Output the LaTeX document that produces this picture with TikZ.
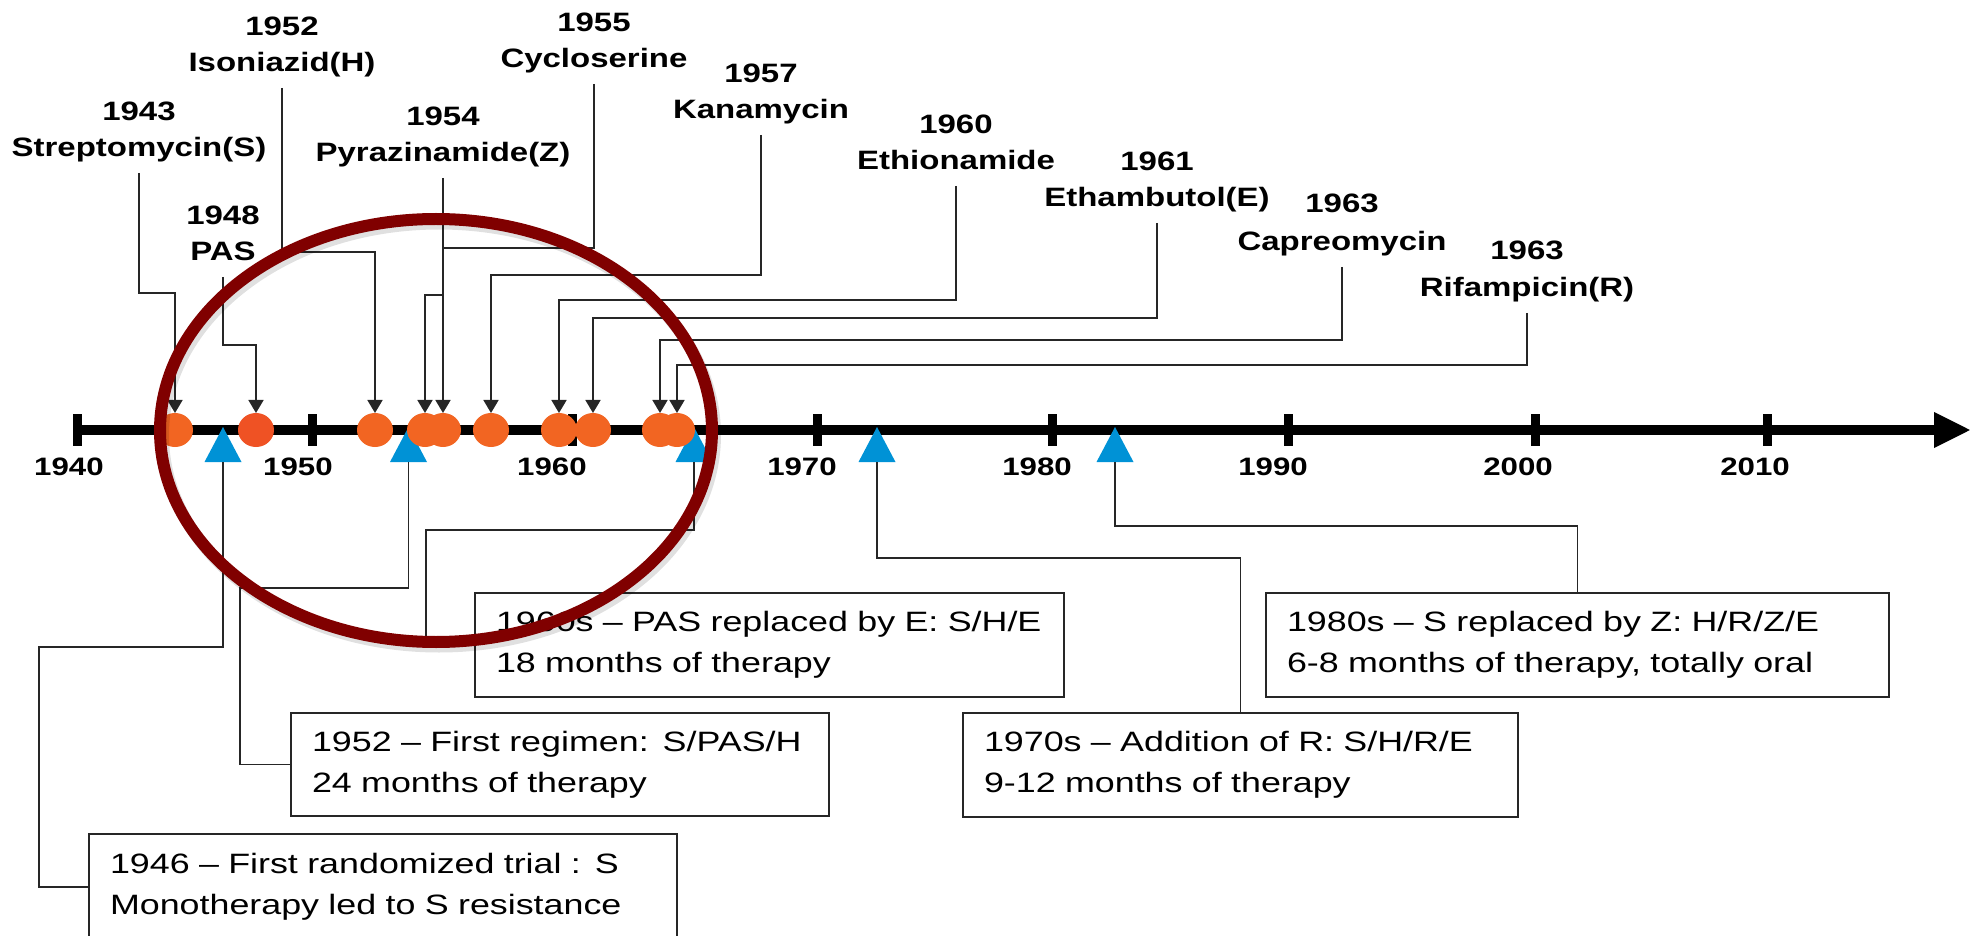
\documentclass[tikz,border=0pt]{standalone}
\usepackage{fontspec}
\setmainfont{Liberation Sans}[FakeStretch=1.24]
\newfontfamily\boxfont{Liberation Sans}[FakeStretch=1.28]
\usetikzlibrary{arrows.meta,shapes.geometric}
\definecolor{dotorange}{RGB}{242,101,34}
\definecolor{dotred}{RGB}{239,82,36}
\definecolor{triblue}{RGB}{0,146,214}
\definecolor{ringred}{RGB}{128,0,0}
\begin{document}
\begin{tikzpicture}[x=0.5pt,y=-0.5pt,
 lbl/.style={font=\bfseries\fontsize{13.3pt}{16pt}\selectfont, inner sep=0pt, outer sep=0pt, text depth=8pt, anchor=base},
 yr/.style={font=\bfseries\fontsize{13.3pt}{16pt}\selectfont, inner sep=0pt, outer sep=0pt, anchor=base},
 axlbl/.style={font=\bfseries\fontsize{12.6pt}{15pt}\selectfont, inner sep=0pt},
 conn/.style={draw=black!85, line width=0.9pt},
 arr/.style={conn, -{Triangle[width=7.5pt,length=6.5pt]}},
 dot/.style={ellipse, fill=dotorange, minimum width=18pt, minimum height=17pt, inner sep=0pt, outer sep=0pt},
 tri/.style={fill=triblue},
 box/.style={draw=black!85, line width=1pt, fill=white, align=left, inner xsep=10.5pt, inner ysep=0pt, outer sep=0pt, font=\boxfont\fontsize{14pt}{20.5pt}\selectfont},
 axisline/.style={line width=5pt, -{Triangle[length=18.5pt,width=16.5pt]}},
 tickmark/.style={line width=4.5pt},
]
\useasboundingbox (0,0) rectangle (1977,936);

% axis
\coordinate (axs) at (77,430);
\coordinate (axe) at (1971,430);
\draw[axisline] (axs) -- (axe);
\foreach \x in {77,312,572,817,1052,1288,1535,1767}
  \draw[tickmark] (\x,414) -- (\x,446);

% axis labels
\node[axlbl] (a40) at (69,467) {1940};
\node[axlbl] (a50) at (298,467) {1950};
\node[axlbl] (a60) at (552,467) {1960};
\node[axlbl] (a70) at (802,467) {1970};
\node[axlbl] (a80) at (1037,467) {1980};
\node[axlbl] (a90) at (1273,467) {1990};
\node[axlbl] (a00) at (1518,467) {2000};
\node[axlbl] (a10) at (1755,467) {2010};

% blue triangles
\coordinate (t46) at (223,462);
\coordinate (t52) at (408.5,462);
\coordinate (t60) at (694,462);
\coordinate (t70) at (877,462);
\coordinate (t80) at (1115,462);
\foreach \t in {t46,t52,t60,t70,t80}
  \fill[tri] (\t) ++(-18.5,0) -- ++(37,0) -- ++(-18.5,-35) -- cycle;

% orange dots
\node[dot] (d43) at (175,430) {};
\node[dot, fill=dotred] (d48) at (256,430) {};
\node[dot] (d52) at (375,430) {};
\node[dot] (d54) at (425,430) {};
\node[dot] (d55) at (443,430) {};
\node[dot] (d57) at (491,430) {};
\node[dot] (d60) at (559,430) {};
\node[dot] (d61) at (593,430) {};
\node[dot] (d63c) at (660,430) {};
\node[dot] (d63r) at (677,430) {};

% drug labels
\node[lbl] (n43) at (139,157) {Streptomycin(S)};
\node[yr] (y43) at ([yshift=18pt]n43.base) {1943};
\node[lbl] (n48) at (223,261) {PAS};
\node[yr] (y48) at ([yshift=18pt]n48.base) {1948};
\node[lbl] (n52) at (282,72) {Isoniazid(H)};
\node[yr] (y52) at ([yshift=18pt]n52.base) {1952};
\node[lbl] (n54) at (443,162) {Pyrazinamide(Z)};
\node[yr] (y54) at ([yshift=18pt]n54.base) {1954};
\node[lbl] (n55) at (594,68) {Cycloserine};
\node[yr] (y55) at ([yshift=18pt]n55.base) {1955};
\node[lbl] (n57) at (761,119) {Kanamycin};
\node[yr] (y57) at ([yshift=18pt]n57.base) {1957};
\node[lbl] (n60) at (956,170) {Ethionamide};
\node[yr] (y60) at ([yshift=18pt]n60.base) {1960};
\node[lbl] (n61) at (1157,207) {Ethambutol(E)};
\node[yr] (y61) at ([yshift=18pt]n61.base) {1961};
\node[lbl] (n63c) at (1342,251) {Capreomycin};
\node[yr] (y63c) at ([yshift=19pt]n63c.base) {1963};
\node[lbl] (n63r) at (1527,297) {Rifampicin(R)};
\node[yr] (y63r) at ([yshift=18.5pt]n63r.base) {1963};

% drug connectors
\draw[arr] (n43.south) -- ++(0,120) -| (d43.north);
\draw[arr] (n48.south) -- ++(0,68) -| (d48.north);
\draw[arr] (n52.south) -- ++(0,164) -| (d52.north);
\draw[arr] (n54.south) -- ++(0,117) -| (d54.north);
\draw[arr] (n55.south) -- ++(0,164) -| (d55.north);
\draw[arr] (n57.south) -- ++(0,140) -| (d57.north);
\draw[arr] (n60.south) -- ++(0,114) -| (d60.north);
\draw[arr] (n61.south) -- ++(0,95) -| (d61.north);
\draw[arr] (n63c.south) -- ++(0,73) -| (d63c.north);
\draw[arr] (n63r.south) -- ++(0,52) -| (d63r.north);

% regimen boxes
\node[box, text width=273pt, minimum height=53pt] (b46) at (383,887)
  {1946 – First randomized trial :\enspace S\\Monotherapy led to S resistance};
\node[box, text width=248pt, minimum height=51.5pt] (b52) at (560,764.5)
  {1952 – First regimen: S/PAS/H\\24 months of therapy};
\node[box, text width=273.5pt, minimum height=52pt] (b60) at (769.5,645)
  {1960s – PAS replaced by E: S/H/E\\18 months of therapy};
\node[box, text width=256.5pt, minimum height=52pt] (b70) at (1240.5,765)
  {1970s – Addition of R: S/H/R/E\\9-12 months of therapy};
\node[box, text width=290.5pt, minimum height=52pt] (b80) at (1577.5,645)
  {1980s – S replaced by Z: H/R/Z/E\\6-8 months of therapy, totally oral};

% regimen connectors
\draw[conn] (t46) -- ++(0,185) -- ++(-184,0) |- (b46.west);
\draw[conn] (t52) -- ++(0,126) -- ++(-168.5,0) |- (b52.west);
\draw[conn] (t60) -- ++(0,68) -- ++(-268,0) |- (b60.west);
\draw[conn] (t70) -- ++(0,96) -| (b70.north);
\draw[conn] (t80) -- ++(0,64) -| (b80.north);

% highlight ring
\draw[line width=6pt, black, opacity=0.12] (439,435) ellipse [x radius=138pt, y radius=105.75pt];
\draw[line width=6pt, ringred] (436,430.5) ellipse [x radius=138pt, y radius=105.75pt];
\end{tikzpicture}
\end{document}
